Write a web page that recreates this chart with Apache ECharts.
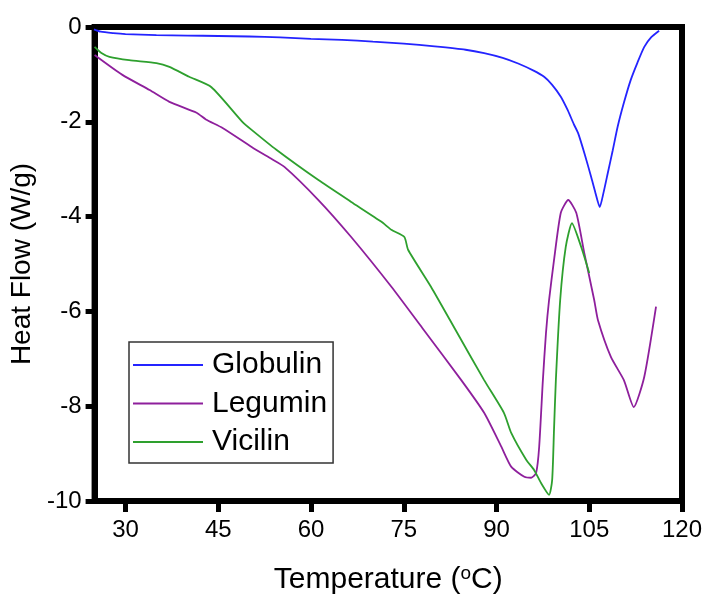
<!DOCTYPE html>
<html>
<head>
<meta charset="utf-8">
<script src="https://cdn.jsdelivr.net/npm/echarts@6/dist/echarts.min.js"></script>
<style>html,body{margin:0;padding:0;background:#fff}#c{width:710px;height:602px}</style>
</head>
<body>
<div id="c"></div>
<script>
var xTicks = [30, 45, 60, 75, 90, 105, 120];
var seriesNames = ['Globulin', 'Legumin', 'Vicilin'];

var globulinT = [24.9, 26, 28, 30, 35, 40, 45, 50, 55, 60, 65, 70, 75, 80, 85, 88, 91, 93.5, 96, 97.7, 99, 100.4, 101.5, 102.5, 103.2, 104.3, 105.3, 106, 106.7, 107.3, 108, 108.8, 109.6, 110.6, 111.7, 112.8, 113.9, 115, 116.3];
var globulinHF = [-0.05, -0.1, -0.13, -0.15, -0.17, -0.18, -0.19, -0.2, -0.22, -0.25, -0.27, -0.31, -0.35, -0.41, -0.48, -0.55, -0.65, -0.77, -0.92, -1.05, -1.22, -1.47, -1.75, -2.05, -2.24, -2.7, -3.16, -3.5, -3.8, -3.5, -3.08, -2.6, -2.1, -1.6, -1.12, -0.75, -0.42, -0.22, -0.08];

var leguminT = [25, 29.5, 33.9, 37.1, 41.5, 43, 45.7, 50.4, 53.3, 55.7, 61.2, 66.5, 73, 78, 84.3, 88, 90.8, 92.4, 94.5, 95.6, 96.4, 96.9, 97.5, 98, 98.5, 99.3, 100.4, 101.6, 102.9, 104.2, 105.8, 106.4, 108.5, 110.6, 112.2, 113.9, 115.8];
var leguminHF = [-0.59, -1.01, -1.33, -1.58, -1.81, -1.95, -2.13, -2.53, -2.76, -2.95, -3.65, -4.43, -5.48, -6.35, -7.45, -8.14, -8.86, -9.28, -9.49, -9.51, -9.41, -8.86, -7.45, -6.46, -5.76, -4.92, -3.92, -3.65, -3.92, -4.77, -5.76, -6.18, -6.96, -7.45, -8.02, -7.38, -5.9];

var vicilinT = [25, 26.1, 27.4, 30.6, 35, 37.1, 40.3, 43.9, 48.9, 50.4, 54.4, 61.2, 66.5, 71.4, 73, 75.1, 75.7, 79.4, 83.5, 88, 91.2, 92.4, 94.8, 96.1, 97.2, 98.5, 99, 99.3, 99.6, 100.3, 101.2, 102.2, 103.7, 105];
var vicilinHF = [-0.42, -0.55, -0.63, -0.70, -0.76, -0.84, -1.05, -1.27, -2.0, -2.17, -2.59, -3.23, -3.69, -4.11, -4.28, -4.43, -4.70, -5.48, -6.42, -7.45, -8.14, -8.57, -9.13, -9.35, -9.62, -9.87, -9.56, -8.5, -7.45, -5.76, -4.64, -4.14, -4.64, -5.19];

function zip(a, b) { return a.map(function (v, i) { return [v, b[i]]; }); }

var FONT = 'Arial, "Liberation Sans", sans-serif';
var colors = ['#2424ff', '#8e1f9c', '#2ea02e'];
var seriesData = [zip(globulinT, globulinHF), zip(leguminT, leguminHF), zip(vicilinT, vicilinHF)];

var chart = echarts.init(document.getElementById('c'), null, {renderer: 'canvas'});
chart.setOption({
  animation: false,
  backgroundColor: '#fff',
  grid: {left: 93, right: 28, top: 27, bottom: 101, show: true, borderColor: '#000', borderWidth: 6},
  legend: {
    orient: 'vertical', left: 129, top: 342,
    data: seriesNames,
    icon: 'rect',
    itemWidth: 70, itemHeight: 2, itemGap: 8.5,
    padding: [8, 6, 6, 4],
    borderColor: '#333', borderWidth: 1.5,
    textStyle: {fontFamily: FONT, fontSize: 30, color: '#000', lineHeight: 30, padding: [0, 0, 0, 4]}
  },
  xAxis: {
    type: 'value', min: 25, max: 120,
    name: 'Temperature ({sup|o}C)', nameLocation: 'middle', nameGap: 63,
    nameTextStyle: {fontFamily: FONT, fontSize: 30, color: '#000',
      rich: {sup: {fontFamily: FONT, fontSize: 19, color: '#000', padding: [0, 0, 12, 0]}}},
    axisLine: {show: true, onZero: false, lineStyle: {color: '#000', width: 6}},
    axisTick: {show: true, inside: false, length: 11, customValues: xTicks, lineStyle: {color: '#000', width: 5}},
    axisLabel: {fontFamily: FONT, fontSize: 24, color: '#000', margin: 17, customValues: xTicks},
    splitLine: {show: false}
  },
  yAxis: {
    type: 'value', min: -10, max: 0, interval: 2,
    name: 'Heat Flow (W/g)', nameLocation: 'middle', nameGap: 50, nameRotate: 90,
    nameTextStyle: {fontFamily: FONT, fontSize: 28, color: '#000'},
    axisLine: {show: true, onZero: false, lineStyle: {color: '#000', width: 6}},
    axisTick: {show: true, length: 9, lineStyle: {color: '#000', width: 5}},
    axisLabel: {fontFamily: FONT, fontSize: 24, color: '#000', margin: 13},
    splitLine: {show: false}
  },
  series: seriesNames.map(function (n, i) {
    return {name: n, type: 'line', data: seriesData[i], symbol: 'none', smooth: 0.2,
      lineStyle: {color: colors[i], width: 1.8}, itemStyle: {color: colors[i]}};
  })
});
</script>
</body>
</html>
